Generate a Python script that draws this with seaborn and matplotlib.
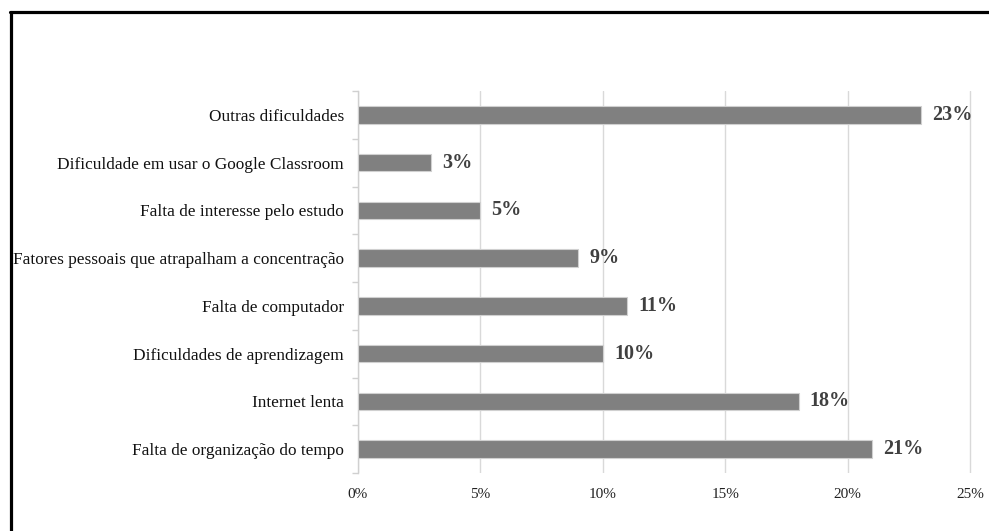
import matplotlib
matplotlib.use("Agg")
import matplotlib.pyplot as plt
import seaborn as sns
import pandas as pd
from matplotlib.lines import Line2D

categories = [
    "Outras dificuldades",
    "Dificuldade em usar o Google Classroom",
    "Falta de interesse pelo estudo",
    "Fatores pessoais que atrapalham a concentração",
    "Falta de computador",
    "Dificuldades de aprendizagem",
    "Internet lenta",
    "Falta de organização do tempo",
]
values = [23, 3, 5, 9, 11, 10, 18, 21]
xticks = [0, 5, 10, 15, 20, 25]
xtick_labels = ["0%", "5%", "10%", "15%", "20%", "25%"]

df = pd.DataFrame({"cat": categories, "val": values})

sns.set_theme(style="white")
plt.rcParams["font.family"] = ["Liberation Serif", "DejaVu Serif"]

W, H = 989, 531
fig = plt.figure(figsize=(W / 100, H / 100), dpi=100)
ax = fig.add_axes([358 / W, 1 - 473 / H, (972 - 358) / W, (473 - 91) / H])

sns.barplot(data=df, x="val", y="cat", order=categories, orient="h",
            color="#808080", saturation=1, width=0.37,
            edgecolor="#d0d0d0", linewidth=0.8, ax=ax, zorder=3)

ax.set_xlim(0, 25.08)
ax.set_ylim(7.5, -0.5)
ax.set_xticks(xticks)
ax.set_xticklabels(xtick_labels, fontsize=11, color="#222222")
ax.tick_params(axis="x", length=0, pad=11)
ax.set_yticks(range(len(categories)))
ax.set_yticklabels(categories, fontsize=12.4, color="#111111")
ax.tick_params(axis="y", which="major", length=0, pad=10)
ax.set_yticks([i - 0.5 for i in range(len(categories) + 1)], minor=True)
ax.tick_params(axis="y", which="minor", length=4, width=1, color="#d0d0d0", left=True)
ax.set_xlabel("")
ax.set_ylabel("")
ax.grid(axis="x", color="#d9d9d9", linewidth=1, zorder=0)
ax.set_axisbelow(True)
for s in ["top", "right", "bottom"]:
    ax.spines[s].set_visible(False)
ax.spines["left"].set_color("#d0d0d0")
ax.spines["left"].set_linewidth(1)

for i, v in enumerate(values):
    ax.annotate(f"{v}%", xy=(v, i), xytext=(8, 0), textcoords="offset points",
                va="center", ha="left", fontsize=14.5, fontweight="bold", color="#404040")

# frame (only left and top edges visible in reference)
fig.add_artist(Line2D([11 / W, 11 / W], [1 - 12 / H, 0], transform=fig.transFigure,
                      color="black", linewidth=2.3))
fig.add_artist(Line2D([10 / W, 1], [1 - 12 / H, 1 - 12 / H], transform=fig.transFigure,
                      color="black", linewidth=2.3))

fig.savefig("out.png", dpi=100, facecolor="white")
